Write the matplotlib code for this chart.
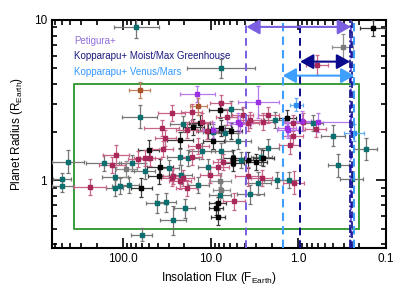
import matplotlib
matplotlib.use("Agg")
import matplotlib.pyplot as plt
from matplotlib.ticker import FixedLocator, NullFormatter, LogLocator
from matplotlib.patches import FancyArrowPatch

plt.rcParams['font.family'] = ['Liberation Sans', 'DejaVu Sans']
plt.rcParams['mathtext.fontset'] = 'custom'
plt.rcParams['mathtext.rm'] = 'Liberation Sans'

# planets: flux (F_Earth), radius (R_Earth), errors in dex
teal_flux = [70, 7.6, 64, 9.3, 20.5, 6.8, 1.85, 5.8, 0.68, 0.40, 0.17, 0.35, 0.245,
             424, 497, 490, 166, 79, 122, 124, 107, 86, 56, 41, 32.5, 26.6, 19.6,
             22.3, 21.7, 18, 61, 7.8, 2.85, 1.76, 3.5, 4.9, 4.5, 2.64, 2.2, 12.6,
             7.5, 10.6, 13.8, 30, 1.28]
teal_rad = [9.1, 5.0, 2.5, 2.0, 2.24, 1.97, 2.39, 2.78, 2.28, 1.90, 1.57, 1.24, 1.02,
            1.31, 1.02, 0.93, 1.29, 1.29, 1.05, 0.90, 0.92, 0.94, 1.14, 0.72, 0.73, 0.565, 0.67,
            1.41, 1.085, 1.38, 0.46, 0.815, 0.96, 1.01, 0.82, 1.77, 1.35, 1.41, 1.59, 1.53,
            1.53, 1.22, 0.94, 1.19, 1.01]
teal_ferr = [0.26, 0.39, 0.2, 0.12, 0.15, 0.15, 0.12, 0.12, 0.12, 0.14, 0.13, 0.12, 0.13,
             0.18, 0.1, 0.12, 0.2, 0.15, 0.15, 0.1, 0.1, 0.12, 0.12, 0.12, 0.12, 0.15, 0.12,
             0.15, 0.12, 0.12, 0.12, 0.12, 0.15, 0.15, 0.15, 0.15, 0.12, 0.12, 0.12, 0.15,
             0.12, 0.12, 0.12, 0.12, 0.12]
teal_rerr = [0.07, 0.06, 0.07, 0.05, 0.05, 0.05, 0.05, 0.05, 0.05, 0.065, 0.07, 0.07, 0.05,
             0.07, 0.04, 0.04, 0.05, 0.05, 0.06, 0.05, 0.05, 0.05, 0.05, 0.06, 0.06, 0.09, 0.06,
             0.05, 0.06, 0.05, 0.04, 0.05, 0.07, 0.05, 0.06, 0.05, 0.05, 0.05, 0.06, 0.05,
             0.05, 0.05, 0.05, 0.05, 0.05]

black_flux = [0.141, 7.8, 13.2, 7.5, 5.8, 62, 51, 38, 39, 8.3, 8.3, 8.7, 5.5, 5.5, 3.7,
              3.0, 2.5, 22.3, 9.3, 15.7, 1.33, 10.6]
black_rad = [8.88, 2.73, 2.28, 2.12, 2.02, 0.90, 1.55, 1.21, 1.06, 0.72, 0.59, 0.67, 1.38,
             1.28, 1.35, 1.31, 1.38, 1.79, 1.75, 2.15, 2.45, 2.02]
black_ferr = [0.14, 0.12, 0.12, 0.12, 0.12, 0.12, 0.12, 0.15, 0.12, 0.1, 0.08, 0.08, 0.12,
              0.12, 0.15, 0.12, 0.12, 0.15, 0.12, 0.12, 0.1, 0.12]
black_rerr = [0.05, 0.05, 0.05, 0.05, 0.05, 0.06, 0.06, 0.05, 0.05, 0.04, 0.05, 0.04, 0.05,
              0.05, 0.05, 0.05, 0.05, 0.05, 0.05, 0.05, 0.05, 0.05]

red_flux = [0.61, 27.8, 16.4, 7.6, 36, 11.1, 18.7, 2.2, 2.5, 3.7, 0.88, 0.63, 236, 120,
            133, 67, 26.6, 18.7, 49, 5.4, 3.7, 1.13, 2.6, 1.25, 1.15, 33, 56, 35, 16.4,
            13.8, 7.2, 8.2, 27.8, 20.5, 22.3, 10.1, 12.6, 6.5, 4.3, 3.5, 1.15]
red_rad = [5.25, 2.63, 2.67, 3.03, 2.12, 2.04, 2.05, 2.56, 2.33, 2.28, 2.33, 2.09, 0.905, 1.44,
           1.25, 1.36, 1.06, 0.90, 1.38, 0.74, 1.06, 0.97, 1.03, 1.67, 1.88, 1.85, 1.39, 1.57, 1.41,
           1.63, 1.31, 1.22, 1.03, 1.03, 0.99, 1.085, 2.33, 2.5, 2.56, 2.39, 2.28]
red_ferr = [0.13, 0.15, 0.12, 0.12, 0.2, 0.12, 0.12, 0.12, 0.12, 0.12, 0.12, 0.12, 0.18, 0.15,
            0.15, 0.12, 0.12, 0.12, 0.12, 0.12, 0.15, 0.12, 0.12, 0.12, 0.12, 0.12, 0.12, 0.12, 0.12,
            0.12, 0.12, 0.12, 0.12, 0.12, 0.12, 0.12, 0.12, 0.12, 0.12, 0.12, 0.12]
red_rerr = [0.06, 0.05, 0.05, 0.05, 0.05, 0.05, 0.05, 0.05, 0.05, 0.05, 0.05, 0.05, 0.05, 0.06,
            0.05, 0.05, 0.05, 0.05, 0.05, 0.05, 0.06, 0.07, 0.05, 0.06, 0.05, 0.05, 0.05, 0.05, 0.05,
            0.05, 0.05, 0.05, 0.05, 0.05, 0.05, 0.05, 0.05, 0.05, 0.05, 0.05, 0.05]

purple_flux = [14.2, 2.84, 4.9, 1.31, 0.9, 0.60, 9.3, 4.6, 1.35]
purple_rad = [3.46, 3.10, 2.33, 2.07, 2.35, 2.30, 2.07, 2.24, 2.12]
purple_ferr = [0.2, 0.23, 0.12, 0.12, 0.1, 0.38, 0.12, 0.12, 0.1]
purple_rerr = [0.05, 0.1, 0.05, 0.05, 0.06, 0.06, 0.05, 0.05, 0.05]

gray_flux = [0.31, 92, 7.5, 7.8]
gray_rad = [6.8, 1.18, 0.875, 0.99]
gray_ferr = [0.12, 0.12, 0.1, 0.12]
gray_rerr = [0.08, 0.05, 0.05, 0.05]

brown_flux = [64, 13.8]
brown_rad = [3.67, 2.89]
brown_ferr = [0.12, 0.1]
brown_rerr = [0.05, 0.05]

blue_flux = [1.05, 0.23]
blue_rad = [2.96, 1.99]
blue_ferr = [0.075, 0.11]
blue_rerr = [0.04, 0.05]

# habitable zone boundaries (F_Earth)
petigura_hz = [3.9, 0.25]
kopparapu_moist_max = [0.95, 0.256, 0.242]
kopparapu_venus_mars = [1.5, 0.229]
box_flux = [0.2, 362]
box_rad = [0.5, 4.0]
arrow_rad = [9.05, 5.5, 4.5]


def errs(vals, dex):
    lo = [v - v / 10 ** d for v, d in zip(vals, dex)]
    hi = [v * 10 ** d - v for v, d in zip(vals, dex)]
    return [lo, hi]


fig = plt.figure(figsize=(3.99, 2.85), dpi=100)
ax = fig.add_axes([0.130, 0.130, 0.837, 0.800])
ax.set_xscale('log')
ax.set_yscale('log')
ax.set_xlim(646, 0.1)
ax.set_ylim(0.38, 10)

groups = [(teal_flux, teal_rad, teal_ferr, teal_rerr, '#0b6f6f', '#767676'),
          (black_flux, black_rad, black_ferr, black_rerr, '#000000', '#3a3a3a'),
          (gray_flux, gray_rad, gray_ferr, gray_rerr, '#7a7a7a', '#8f8f8f'),
          (red_flux, red_rad, red_ferr, red_rerr, '#a8285a', '#c8668a'),
          (purple_flux, purple_rad, purple_ferr, purple_rerr, '#9b30e0', '#b878ea'),
          (brown_flux, brown_rad, brown_ferr, brown_rerr, '#a8532c', '#c2805f'),
          (blue_flux, blue_rad, blue_ferr, blue_rerr, '#2e8ff0', '#62acf5')]
for fx, ry, fe, re_, c, ec in groups:
    ax.errorbar(fx, ry, xerr=errs(fx, fe), yerr=errs(ry, re_), fmt='s', ms=2.8,
                color=c, mec=c, ecolor=ec, elinewidth=0.9, capsize=1.5, capthick=0.9,
                zorder=3)

# green box
ax.plot([box_flux[0], box_flux[1], box_flux[1], box_flux[0], box_flux[0]],
        [box_rad[0], box_rad[0], box_rad[1], box_rad[1], box_rad[0]],
        color='#3a9a3a', lw=1.4, zorder=2)

# boundaries
ax.axvline(petigura_hz[0], color='#7b5fe0', ls=(0, (4, 2.5)), lw=1.4, zorder=4)
ax.axvline(petigura_hz[1], color='#7b5fe0', ls=(0, (4, 2.5)), lw=1.4, zorder=4)
ax.axvline(kopparapu_venus_mars[0], color='#3f9fff', ls=(0, (4, 2.5)), lw=1.5, zorder=4)
ax.axvline(kopparapu_venus_mars[1], color='#3f9fff', ls=(0, (4, 2.5)), lw=1.5, zorder=4)
ax.axvline(kopparapu_moist_max[0], color='#0a0a8c', ls=(0, (4, 2.5)), lw=1.4, zorder=4)
ax.axvline(kopparapu_moist_max[1], color='#0a0a8c', ls=(0, (5, 1.5, 1, 1.5)), lw=1.2, zorder=4)
ax.axvline(kopparapu_moist_max[2], color='#0a0a8c', ls=(0, (4, 2)), lw=1.2, zorder=4)

arrows = [(petigura_hz[0], petigura_hz[1], arrow_rad[0], '#7b5fe0'),
          (kopparapu_moist_max[0], kopparapu_moist_max[1], arrow_rad[1], '#0a0a8c'),
          (kopparapu_venus_mars[0], kopparapu_venus_mars[1], arrow_rad[2], '#3f9fff')]
for x0, x1, yy, c in arrows:
    ax.add_patch(FancyArrowPatch((x0, yy), (x1, yy),
                                 arrowstyle='<|-|>,head_length=8,head_width=4.5',
                                 color=c, lw=1.5, shrinkA=0, shrinkB=0, zorder=5))

ax.text(0.066, 0.908, 'Petigura+', color='#9370db', fontsize=7, transform=ax.transAxes, va='center')
ax.text(0.066, 0.842, 'Kopparapu+ Moist/Max Greenhouse', color='#1a1a80', fontsize=7,
        transform=ax.transAxes, va='center')
ax.text(0.066, 0.772, 'Kopparapu+ Venus/Mars', color='#3399ff', fontsize=7,
        transform=ax.transAxes, va='center')

ax.xaxis.set_major_locator(FixedLocator([100, 10, 1, 0.1]))
ax.set_xticklabels(['100.0', '10.0', '1.0', '0.1'])
ax.xaxis.set_minor_locator(LogLocator(base=10, subs=range(2, 10)))
ax.xaxis.set_minor_formatter(NullFormatter())
ax.yaxis.set_major_locator(FixedLocator([1, 10]))
ax.set_yticklabels(['1', '10'])
ax.yaxis.set_minor_locator(LogLocator(base=10, subs=range(2, 10)))
ax.yaxis.set_minor_formatter(NullFormatter())
ax.tick_params(which='both', direction='in', top=True, right=True, labelsize=8.5, width=1.2)
ax.tick_params(which='major', length=7)
ax.tick_params(which='minor', length=3.5)
for s in ax.spines.values():
    s.set_linewidth(1.5)

ax.set_xlabel(r'Insolation Flux (F$_{\rm Earth}$)', fontsize=8.5, labelpad=4)
ax.set_ylabel(r'Planet Radius (R$_{\rm Earth}$)', fontsize=8.5, labelpad=6)

fig.savefig('out.png', dpi=100)
